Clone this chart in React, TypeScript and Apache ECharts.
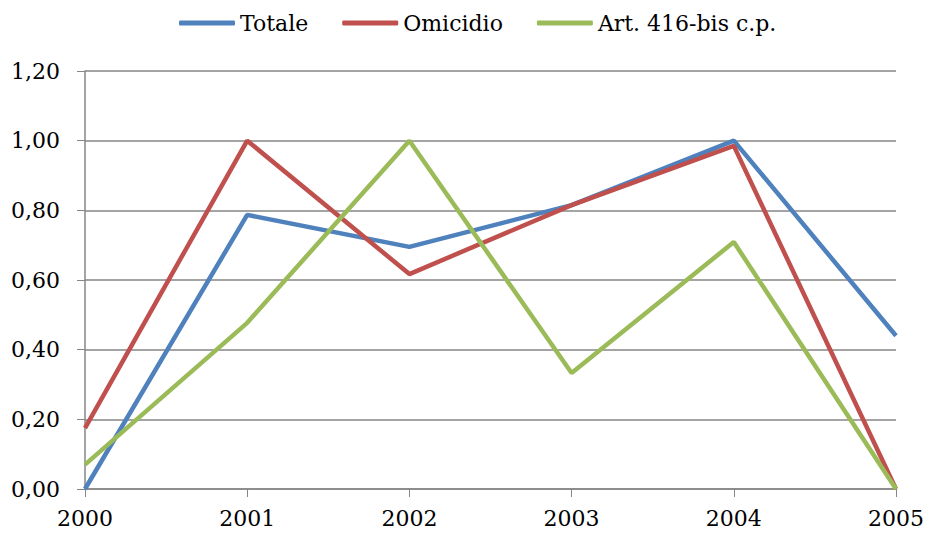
import React, { useEffect, useRef } from "react";
import * as echarts from "echarts";

const categories = ["2000", "2001", "2002", "2003", "2004", "2005"];
const totale = [0.0, 0.787, 0.695, 0.815, 1.0, 0.44];
const omicidio = [0.175, 1.0, 0.617, 0.815, 0.985, 0.0];
const art416 = [0.07, 0.477, 1.0, 0.333, 0.709, 0.0];
const seriesNames = ["Totale", "Omicidio", "Art. 416-bis c.p."];
const colors = ["#4F81BD", "#C0504D", "#9BBB59"];

const FONT = "'DejaVu Serif', serif";

export default function App() {
  const ref = useRef<HTMLDivElement>(null);
  useEffect(() => {
    if (!ref.current) return;
    const chart = echarts.init(ref.current, undefined, { renderer: "svg" });
    const data = [totale, omicidio, art416];
    chart.setOption({
      animation: false,
      color: colors,
      grid: { left: 85, right: 34, top: 71, bottom: 54, containLabel: false },
      legend: {
        top: 7,
        left: 174,
        itemWidth: 56,
        itemHeight: 5,
        itemGap: 34,
        icon: "roundRect",
        textStyle: { fontFamily: FONT, fontSize: 22, color: "#000", padding: [0, 0, 0, 0] },
        data: seriesNames,
      },
      xAxis: {
        type: "category",
        data: categories,
        boundaryGap: false,
        axisLine: { lineStyle: { color: "#868686", width: 1.5 } },
        axisTick: { show: true, length: 8, inside: false, lineStyle: { color: "#868686" } },
        axisLabel: { fontFamily: FONT, fontSize: 22, color: "#000", margin: 18 },
        splitLine: { show: false },
      },
      yAxis: {
        type: "value",
        min: 0,
        max: 1.2,
        interval: 0.2,
        axisLine: { show: true, lineStyle: { color: "#868686", width: 1.5 } },
        axisTick: { show: true, length: 8, lineStyle: { color: "#868686" } },
        axisLabel: {
          fontFamily: FONT,
          fontSize: 22,
          color: "#000",
          margin: 25,
          formatter: (v: number) => v.toFixed(2).replace(".", ","),
        },
        splitLine: { show: true, lineStyle: { color: "#868686", width: 1.5 } },
      },
      series: seriesNames.map((name, i) => ({
        name,
        type: "line",
        data: data[i],
        showSymbol: false,
        symbol: "none",
        lineStyle: { width: 4.5, color: colors[i] },
        itemStyle: { color: colors[i] },
      })),
    });
    return () => chart.dispose();
  }, []);
  return (
    <div
      ref={ref}
      style={{ position: "fixed", left: 0, top: 0, width: 930, height: 543, background: "#fff" }}
    />
  );
}
